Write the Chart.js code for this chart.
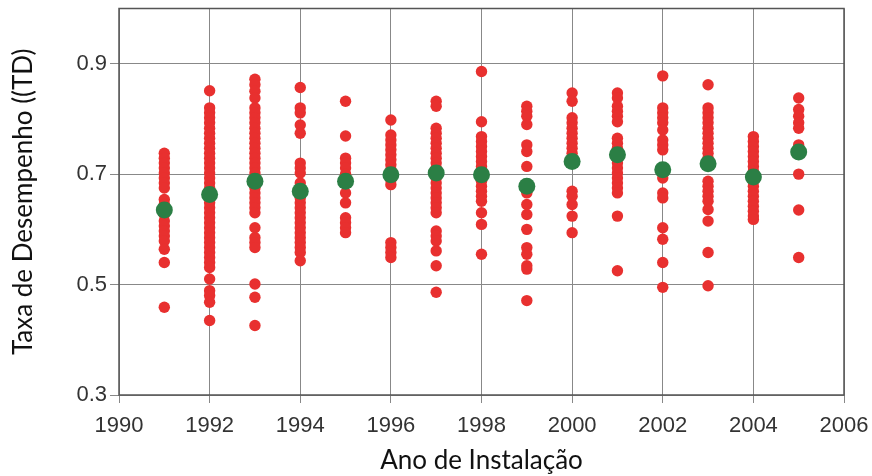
<!DOCTYPE html>
<html>
<head>
<meta charset="utf-8">
<script src="https://cdn.jsdelivr.net/npm/chart.js@4/dist/chart.umd.min.js"></script>
<style>
  html, body { margin: 0; padding: 0; background: #fff; }
  #box { width: 872px; height: 476px; }
</style>
</head>
<body>
<div id="box"><canvas id="grafico"></canvas></div>
<script>
// anos com medições
const anos = [1991, 1992, 1993, 1994, 1995, 1996, 1997, 1998, 1999, 2000, 2001, 2002, 2003, 2004, 2005];

// TD média por ano (pontos verdes)
const mediaTD = [0.635, 0.663, 0.687, 0.669, 0.687, 0.699, 0.702, 0.699, 0.678, 0.723, 0.735, 0.708, 0.719, 0.695, 0.740];

// TD de cada instalação (pontos vermelhos)
const td1991 = [0.738, 0.729, 0.720, 0.711, 0.702, 0.693, 0.684, 0.675, 0.654, 0.645, 0.636, 0.627, 0.615, 0.606, 0.597, 0.588, 0.579, 0.564, 0.540, 0.459];
const td1992 = [0.851, 0.820, 0.811, 0.802, 0.793, 0.783, 0.774, 0.765, 0.756, 0.747, 0.738, 0.729, 0.720, 0.711, 0.702, 0.693, 0.684, 0.675, 0.666, 0.657, 0.648, 0.639, 0.630, 0.621, 0.612, 0.603, 0.594, 0.585, 0.576, 0.567, 0.558, 0.549, 0.540, 0.531, 0.510, 0.489, 0.480, 0.468, 0.435];
const td1993 = [0.872, 0.862, 0.850, 0.838, 0.820, 0.811, 0.802, 0.793, 0.783, 0.774, 0.765, 0.756, 0.747, 0.738, 0.729, 0.720, 0.711, 0.702, 0.693, 0.684, 0.675, 0.666, 0.657, 0.648, 0.639, 0.630, 0.603, 0.585, 0.576, 0.567, 0.501, 0.477, 0.426];
const td1994 = [0.857, 0.820, 0.811, 0.789, 0.774, 0.720, 0.711, 0.702, 0.684, 0.675, 0.666, 0.657, 0.648, 0.639, 0.630, 0.621, 0.612, 0.603, 0.594, 0.585, 0.576, 0.567, 0.558, 0.543];
const td1995 = [0.832, 0.769, 0.729, 0.720, 0.711, 0.700, 0.666, 0.648, 0.621, 0.612, 0.603, 0.594];
const td1996 = [0.798, 0.771, 0.762, 0.753, 0.744, 0.735, 0.726, 0.717, 0.708, 0.699, 0.690, 0.681, 0.576, 0.567, 0.558, 0.549];
const td1997 = [0.832, 0.823, 0.783, 0.774, 0.765, 0.756, 0.747, 0.738, 0.729, 0.720, 0.711, 0.702, 0.693, 0.684, 0.675, 0.666, 0.657, 0.648, 0.639, 0.630, 0.597, 0.588, 0.579, 0.561, 0.534, 0.486];
const td1998 = [0.886, 0.795, 0.768, 0.759, 0.750, 0.741, 0.732, 0.723, 0.714, 0.705, 0.696, 0.687, 0.678, 0.669, 0.660, 0.651, 0.630, 0.609, 0.555];
const td1999 = [0.823, 0.814, 0.805, 0.790, 0.753, 0.741, 0.714, 0.666, 0.645, 0.627, 0.600, 0.567, 0.555, 0.534, 0.528, 0.471];
const td2000 = [0.847, 0.832, 0.802, 0.793, 0.783, 0.774, 0.765, 0.756, 0.747, 0.738, 0.729, 0.669, 0.660, 0.645, 0.624, 0.594];
const td2001 = [0.847, 0.838, 0.823, 0.814, 0.805, 0.795, 0.765, 0.756, 0.747, 0.738, 0.729, 0.720, 0.711, 0.702, 0.693, 0.684, 0.675, 0.666, 0.624, 0.525];
const td2002 = [0.878, 0.820, 0.811, 0.802, 0.793, 0.780, 0.762, 0.753, 0.744, 0.693, 0.666, 0.657, 0.603, 0.582, 0.540, 0.495];
const td2003 = [0.862, 0.820, 0.811, 0.802, 0.793, 0.783, 0.774, 0.765, 0.756, 0.747, 0.738, 0.729, 0.687, 0.678, 0.669, 0.660, 0.651, 0.636, 0.615, 0.558, 0.498];
const td2004 = [0.768, 0.759, 0.750, 0.741, 0.732, 0.723, 0.714, 0.705, 0.696, 0.687, 0.678, 0.669, 0.660, 0.651, 0.642, 0.633, 0.624, 0.618];
const td2005 = [0.838, 0.817, 0.805, 0.793, 0.783, 0.753, 0.700, 0.635, 0.549];

const tdPorAno = [td1991, td1992, td1993, td1994, td1995, td1996, td1997, td1998, td1999, td2000, td2001, td2002, td2003, td2004, td2005];

const pontosInstalacoes = [];
for (let i = 0; i < anos.length; i++) {
    tdPorAno[i].forEach(v => pontosInstalacoes.push({ x: anos[i], y: v }));
}
const pontosMedia = anos.map((a, i) => ({ x: a, y: mediaTD[i] }));

// moldura em volta da área do gráfico
const moldura = {
    id: 'moldura',
    beforeDatasetsDraw(chart) {
        const { ctx, chartArea: a } = chart;
        ctx.save();
        ctx.strokeStyle = '#555';
        ctx.lineWidth = 1.5;
        ctx.strokeRect(a.left, a.top, a.right - a.left, a.bottom - a.top);
        ctx.restore();
    }
};

const corGrade = '#888';
const fonteTicks = { family: 'Liberation Sans', size: 22 };
const fonteTitulo = { family: 'Lato', size: 26 };

new Chart(document.getElementById('grafico').getContext('2d'), {
    type: 'scatter',
    data: {
        datasets: [
            {
                label: 'Média',
                data: pontosMedia,
                backgroundColor: '#2b7f45',
                borderWidth: 0,
                pointRadius: 8.5
            },
            {
                label: 'Instalações',
                data: pontosInstalacoes,
                backgroundColor: '#e8302f',
                borderWidth: 0,
                pointRadius: 5.7
            }
        ]
    },
    options: {
        responsive: true,
        maintainAspectRatio: false,
        animation: false,
        layout: { padding: { top: 7, right: 28, left: 0, bottom: 0 } },
        plugins: {
            legend: { display: false },
            tooltip: { enabled: false }
        },
        scales: {
            x: {
                min: 1990,
                max: 2006,
                afterFit: s => { s.height = 81; s.paddingLeft = 0; s.paddingRight = 0; },
                ticks: {
                    stepSize: 2,
                    color: '#333',
                    font: fonteTicks,
                    padding: 10,
                    maxRotation: 0,
                    callback: v => String(v)
                },
                grid: { color: corGrade, lineWidth: 1, tickLength: 8 },
                border: { display: false },
                title: {
                    display: true,
                    text: 'Ano de Instalação',
                    color: '#111',
                    font: fonteTitulo,
                    padding: { top: 0, bottom: 0 }
                }
            },
            y: {
                min: 0.3,
                max: 1.0,
                afterFit: s => { s.width = 119; s.paddingTop = 0; s.paddingBottom = 0; },
                afterBuildTicks: s => { s.ticks = [0.3, 0.5, 0.7, 0.9].map(v => ({ value: v })); },
                ticks: {
                    color: '#333',
                    font: fonteTicks,
                    padding: 3,
                    callback: v => v.toFixed(1)
                },
                grid: { color: corGrade, lineWidth: 1, tickLength: 9 },
                border: { display: false },
                title: {
                    display: true,
                    text: 'Taxa de Desempenho ((TD)',
                    color: '#111',
                    font: fonteTitulo,
                    padding: { top: 8, bottom: 0 }
                }
            }
        }
    },
    plugins: [moldura]
});
</script>
</body>
</html>
